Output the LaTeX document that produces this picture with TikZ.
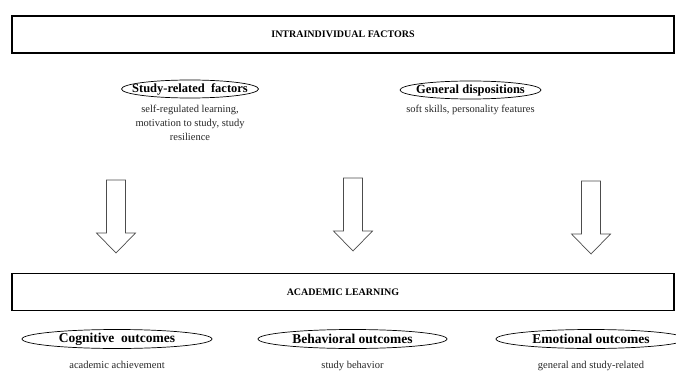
\documentclass[tikz,border=0pt]{standalone}
\usepackage{fontspec}
\setmainfont{Liberation Serif}
\usepackage{tikz}

\tikzset{
  bandbox/.style={draw, line width=1.1pt, minimum width=662pt, minimum height=37pt, inner sep=0pt, font=\fontsize{10}{12}\selectfont\bfseries},
  factor/.style={inner sep=0pt, font=\fontsize{12.5}{14}\selectfont\bfseries},
  outcome/.style={inner sep=0pt, font=\fontsize{13.5}{15}\selectfont\bfseries},
  ring/.style={line width=0.7pt},
  detail/.style={align=center, text=black!85, font=\fontsize{10.5}{14}\selectfont},
  blockarrow/.style={draw=black!70, line width=0.7pt, fill=white}
}

\begin{document}
\begin{tikzpicture}[x=1pt,y=-1pt]

\useasboundingbox (0,0) rectangle (676,374);

\node[bandbox] (intra) at (343,34.5) {INTRAINDIVIDUAL FACTORS};

\node[factor] (study) at (190,89) {Study-related\ \ factors};
\draw[ring] (study) ellipse (68.5pt and 9pt);
\node[detail, anchor=north] (studytxt) at (190,102) {self-regulated learning,\\ motivation to study, study\\ resilience};

\node[factor] (general) at (470.5,90) {General\ dispositions};
\draw[ring] (general) ellipse (70.5pt and 9pt);
\node[detail, anchor=north] (generaltxt) at (470.5,102) {soft skills, personality features};

\foreach \x/\t in {116/180, 353/178, 591/181}
  \draw[blockarrow] (\x-9.5,\t) -- (\x+9.5,\t) -- (\x+9.5,\t+53) -- (\x+19.5,\t+53)
    -- (\x,\t+73) -- (\x-19.5,\t+53) -- (\x-9.5,\t+53) -- cycle;

\node[bandbox] (academic) at (343,292) {ACADEMIC LEARNING};

\node[outcome] (cog) at (117,339) {Cognitive\ \ outcomes};
\draw[ring] (cog) ellipse (95pt and 9.5pt);
\node[detail, anchor=north] (cogtxt) at (117,358) {academic achievement};

\node[outcome] (beh) at (352.5,339) {Behavioral outcomes};
\draw[ring] (beh) ellipse (94.5pt and 9.5pt);
\node[detail, anchor=north] (behtxt) at (352.5,358) {study behavior};

\node[outcome] (emo) at (591,339) {Emotional outcomes};
\draw[ring] (emo) ellipse (95pt and 9.5pt);
\node[detail, anchor=north] (emotxt) at (591,358) {general and study-related};

\end{tikzpicture}
\end{document}
